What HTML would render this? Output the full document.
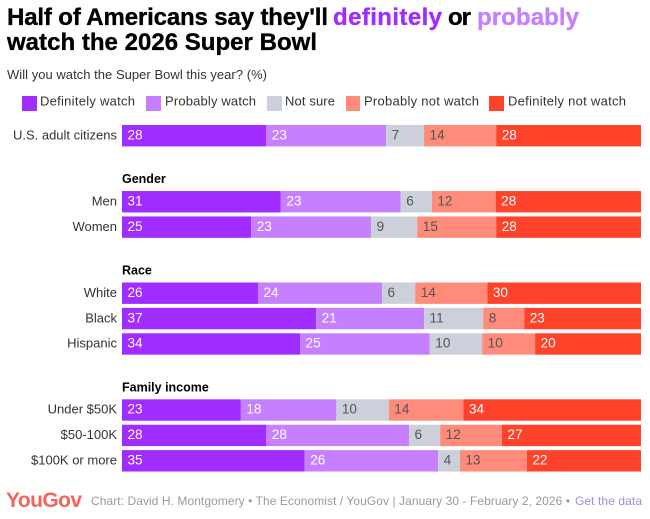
<!DOCTYPE html>
<html lang="en">
<head>
<meta charset="utf-8">
<title>Half of Americans say they'll definitely or probably watch the 2026 Super Bowl</title>
<style>
html,body{margin:0;padding:0;background:#fff;width:650px;height:519px;overflow:hidden}
svg{display:block;font-family:"Liberation Sans",sans-serif}
.title{font-size:24px;font-weight:700;fill:#000;stroke:currentColor;stroke-width:.35px}
.legend-text{font-size:13px;fill:#333}
.row-label{font-size:13px;fill:#333;text-anchor:end}
.group-label{font-size:12.5px;font-weight:700;fill:#000}
.value{font-size:13.6px}
.foot{font-size:12px;fill:#999}
</style>
</head>
<body>
<svg id="chart" width="650" height="519" viewBox="0 0 650 519" xmlns="http://www.w3.org/2000/svg">
  <rect width="650" height="519" fill="#fff"/>
  <g>
    <text class="title" x="7" y="25" textLength="321" color="#000">Half of Americans say they'll</text>
    <text class="title" x="333" y="25" textLength="109" color="#a02cff" style="fill:#a02cff">definitely</text>
    <text class="title" x="448" y="25" textLength="23" color="#000">or</text>
    <text class="title" x="477" y="25" textLength="102" color="#c680ff" style="fill:#c680ff">probably</text>
    <text class="title" x="7" y="50" textLength="310" color="#000">watch the 2026 Super Bowl</text>
  </g>
  <text x="7" y="79" font-size="13" fill="#333" textLength="260">Will you watch the Super Bowl this year? (%)</text>
  <g>
    <rect x="22" y="96" width="15" height="15" fill="#a02cff"/>
    <text class="legend-text" x="40" y="105.5" textLength="95">Definitely watch</text>
    <rect x="146" y="96" width="15" height="15" fill="#c680ff"/>
    <text class="legend-text" x="165" y="105.5" textLength="91">Probably watch</text>
    <rect x="267" y="96" width="15" height="15" fill="#cbd0db"/>
    <text class="legend-text" x="285" y="105.5" textLength="50">Not sure</text>
    <rect x="346" y="96" width="14" height="15" fill="#ff8b7b"/>
    <text class="legend-text" x="364" y="105.5" textLength="115">Probably not watch</text>
    <rect x="489" y="96" width="15" height="15" fill="#ff432b"/>
    <text class="legend-text" x="508" y="105.5" textLength="118">Definitely not watch</text>
  </g>
  <g id="plot"></g>
  <g>
    <text x="6" y="507" font-size="21" font-weight="700" fill="#f4665c" textLength="76">YouGov</text>
    <text class="foot" x="91" y="505" textLength="479">Chart: David H. Montgomery • The Economist / YouGov | January 30 - February 2, 2026 •</text>
    <text class="foot" x="575" y="505" textLength="67" style="fill:#9c90dd">Get the data</text>
  </g>
</svg>
<script>
const categories = ["U.S. adult citizens", "Men", "Women", "White", "Black", "Hispanic", "Under $50K", "$50-100K", "$100K or more"];
const groupNames = ["", "Gender", "", "Race", "", "", "Family income", "", ""];
const seriesNames = ["definitely-watch", "probably-watch", "not-sure", "probably-not-watch", "definitely-not-watch"];
const definitelyWatch = [27.8, 30.6, 24.9, 26.2, 37.4, 34.3, 22.9, 27.8, 35.2];
const probablyWatch = [23.1, 23.1, 23.1, 23.9, 20.8, 25.0, 18.4, 27.5, 25.7];
const notSure = [7.3, 6.0, 8.9, 6.4, 11.4, 10.1, 10.1, 6.0, 4.2];
const probablyNotWatch = [13.9, 12.3, 15.2, 13.9, 7.9, 10.2, 14.4, 11.9, 12.9];
const definitelyNotWatch = [27.9, 28.0, 27.9, 29.6, 22.5, 20.4, 34.2, 26.8, 22.0];

const seriesValues = [definitelyWatch, probablyWatch, notSure, probablyNotWatch, definitelyNotWatch];
const seriesColors = ["#a02cff", "#c680ff", "#cbd0db", "#ff8b7b", "#ff432b"];
const labelColors = ["#fff", "#fff", "#555", "#555", "#fff"];

const NS = "http://www.w3.org/2000/svg";
const plot = document.getElementById("plot");
const plotLeft = 122, plotWidth = 519, domainMax = 100;
const plotTop = 125, bandStep = 25.4, bandHeight = 21.4, groupGap = 1.6;

function xScale(v) { return plotLeft + v / domainMax * plotWidth; }
function slug(s) { return s.toLowerCase().replace(/[^a-z0-9]+/g, "-").replace(/^-|-$/g, ""); }

let slot = 0;
categories.forEach(function (category, r) {
  if (groupNames[r]) slot += groupGap;
  const y = plotTop + slot * bandStep;
  slot += 1;

  if (groupNames[r]) {
    const head = document.createElementNS(NS, "text");
    head.setAttribute("class", "group-label");
    head.setAttribute("x", plotLeft);
    head.setAttribute("y", y - 8);
    
    
    head.textContent = groupNames[r];
    plot.appendChild(head);
  }

  const label = document.createElementNS(NS, "text");
  label.setAttribute("class", "row-label");
  label.setAttribute("x", 117);
  label.setAttribute("y", y + bandHeight / 2 + 3.7);
  
  
  label.textContent = category;
  plot.appendChild(label);

  let cum = 0;
  seriesValues.forEach(function (values, s) {
    const v = values[r];
    const x0 = xScale(cum);
    const x1 = xScale(cum + v);
    cum += v;

    const bar = document.createElementNS(NS, "rect");
    bar.setAttribute("x", x0);
    bar.setAttribute("y", y);
    bar.setAttribute("width", x1 - x0);
    bar.setAttribute("height", bandHeight);
    bar.setAttribute("fill", seriesColors[s]);
    
    
    plot.appendChild(bar);

    const val = document.createElementNS(NS, "text");
    val.setAttribute("class", "value");
    val.setAttribute("x", x0 + 5.5);
    val.setAttribute("y", y + bandHeight / 2 + 3.7);
    val.setAttribute("fill", labelColors[s]);
    
    
    val.textContent = String(Math.round(v));
    plot.appendChild(val);
  });
});
</script>
</body>
</html>
